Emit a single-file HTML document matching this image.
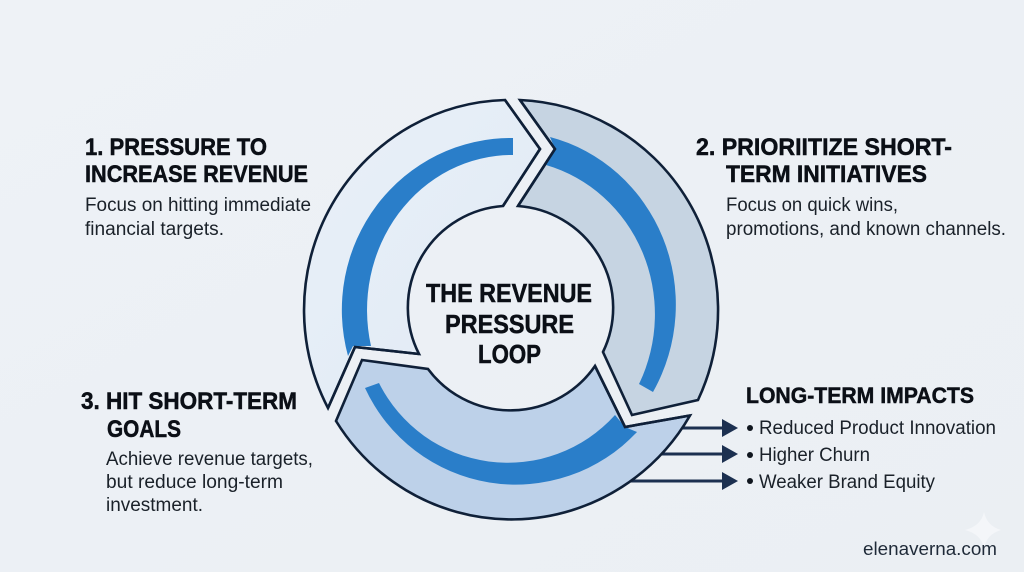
<!DOCTYPE html>
<html lang="en">
<head>
<meta charset="utf-8">
<title>The Revenue Pressure Loop</title>
<style>
html,body{margin:0;padding:0;width:1024px;height:572px;overflow:hidden;background:#edf1f5}
svg{display:block}
text{font-family:"Liberation Sans",sans-serif}
.h{font-weight:700;font-size:24px;fill:#0b0f16;stroke:#0b0f16;stroke-width:.5px}
.b{font-size:19px;fill:#1a2129}
.c{font-weight:700;font-size:25.5px;fill:#0b0f16;stroke:#0b0f16;stroke-width:.5px}
.seg{stroke:#0f2038;stroke-width:2.6;stroke-linejoin:miter}
</style>
</head>
<body>
<svg width="1024" height="572" viewBox="0 0 1024 572" xmlns="http://www.w3.org/2000/svg">
<defs>
<linearGradient id="bg" x1="0" y1="0" x2="1" y2="1">
<stop offset="0" stop-color="#eef2f6"/><stop offset=".5" stop-color="#ecf0f5"/><stop offset="1" stop-color="#ebeff3"/>
</linearGradient>
<linearGradient id="s1" x1="0" y1="0" x2="1" y2="1">
<stop offset="0" stop-color="#e9f0f8"/><stop offset="1" stop-color="#e0eaf5"/>
</linearGradient>
</defs>
<rect width="1024" height="572" fill="url(#bg)"/>

<!-- arrows (behind the ring) -->
<g fill="#1c3050" stroke="#1c3050">
<line x1="670" y1="428" x2="724" y2="428" stroke-width="3"/>
<line x1="650" y1="454" x2="724" y2="454" stroke-width="3"/>
<line x1="620" y1="481" x2="724" y2="481" stroke-width="3"/>
<path d="M722 419 L738 428 L722 437Z" stroke="none"/>
<path d="M722 445 L738 454 L722 463Z" stroke="none"/>
<path d="M722 472 L738 481 L722 490Z" stroke="none"/>
</g>

<!-- segment 1 -->
<path class="seg" fill="url(#s1)" d="M505 100 L540 149 L503 206 A102.5 102 0 0 0 419 354 L355 347 L328 408 A207 210 0 0 1 505 100Z"/>
<path fill="#2a7ec9" d="M513 138 A169 172 0 0 0 348 356 L353 346 L371 346 A145 155 0 0 1 513 155Z"/>
<path class="seg" fill="none" d="M505 100 L540 149 L503 206"/>
<path class="seg" fill="none" d="M419 354 L355 347 L328 408"/>

<!-- segment 2 -->
<path class="seg" fill="#c6d4e2" d="M520 100 A207 210 0 0 1 698 400 L632 415 L603 352 A102.5 102 0 0 0 518 206 L555 149Z"/>
<path fill="#2a7ec9" d="M550 137 A167 173 0 0 1 653 392 L639 384 A149 155 0 0 0 546 165 L555 149Z"/>
<path class="seg" fill="none" d="M520 100 L555 149 L518 206"/>

<!-- segment 3 -->
<path class="seg" fill="#bdd1e9" d="M362 360 L428 369 A102.5 102 0 0 0 595 366 L625 427 L690 415.5 A207 210 0 0 1 336 421Z"/>
<path fill="#2a7ec9" d="M365 388 L379 383 A144 144 0 0 0 615 415 L625 427 L637 432 A166 166 0 0 1 365 388Z"/>
<path class="seg" fill="none" d="M595 366 L625 427 L690 415.5"/>

<!-- left and right labels -->
<text class="h" x="85" y="155" textLength="182" lengthAdjust="spacingAndGlyphs">1. PRESSURE TO</text>
<text class="h" x="85" y="182" textLength="223" lengthAdjust="spacingAndGlyphs">INCREASE REVENUE</text>
<text class="b" x="85" y="211" textLength="226" lengthAdjust="spacingAndGlyphs">Focus on hitting immediate</text>
<text class="b" x="85" y="235" textLength="139" lengthAdjust="spacingAndGlyphs">financial targets.</text>

<text class="h" x="696" y="155" textLength="256" lengthAdjust="spacingAndGlyphs">2. PRIORIITIZE SHORT-</text>
<text class="h" x="726" y="182" textLength="201" lengthAdjust="spacingAndGlyphs">TERM INITIATIVES</text>
<text class="b" x="726" y="211" textLength="172" lengthAdjust="spacingAndGlyphs">Focus on quick wins,</text>
<text class="b" x="726" y="235" textLength="280" lengthAdjust="spacingAndGlyphs">promotions, and known channels.</text>

<text class="h" x="81" y="409" textLength="216" lengthAdjust="spacingAndGlyphs">3. HIT SHORT-TERM</text>
<text class="h" x="107" y="437" textLength="74" lengthAdjust="spacingAndGlyphs">GOALS</text>
<text class="b" x="106" y="465" textLength="207" lengthAdjust="spacingAndGlyphs">Achieve revenue targets,</text>
<text class="b" x="106" y="488" textLength="177" lengthAdjust="spacingAndGlyphs">but reduce long-term</text>
<text class="b" x="106" y="511" textLength="97" lengthAdjust="spacingAndGlyphs">investment.</text>

<!-- centre -->
<text class="c" x="426" y="302" textLength="166" lengthAdjust="spacingAndGlyphs">THE REVENUE</text>
<text class="c" x="445" y="333" textLength="129" lengthAdjust="spacingAndGlyphs">PRESSURE</text>
<text class="c" x="478" y="363" textLength="63" lengthAdjust="spacingAndGlyphs">LOOP</text>

<!-- long term impacts -->
<text class="h" x="746" y="403" textLength="228" lengthAdjust="spacingAndGlyphs" style="font-size:22.5px">LONG-TERM IMPACTS</text>
<circle cx="750" cy="428" r="3" fill="#10161e"/>
<circle cx="750" cy="455" r="3" fill="#10161e"/>
<circle cx="750" cy="481" r="3" fill="#10161e"/>
<text class="b" x="759" y="434" textLength="237" lengthAdjust="spacingAndGlyphs">Reduced Product Innovation</text>
<text class="b" x="759" y="461" textLength="111" lengthAdjust="spacingAndGlyphs">Higher Churn</text>
<text class="b" x="759" y="488" textLength="176" lengthAdjust="spacingAndGlyphs">Weaker Brand Equity</text>

<!-- watermark -->
<path fill="#f4f6f9" d="M984 512 Q987 526 1001 530 Q987 534 984 548 Q981 534 965 530 Q981 526 984 512Z"/>
<text x="863" y="555" textLength="134" lengthAdjust="spacingAndGlyphs" style="font-size:18.5px;fill:#1f2a38">elenaverna.com</text>
</svg>
</body>
</html>
